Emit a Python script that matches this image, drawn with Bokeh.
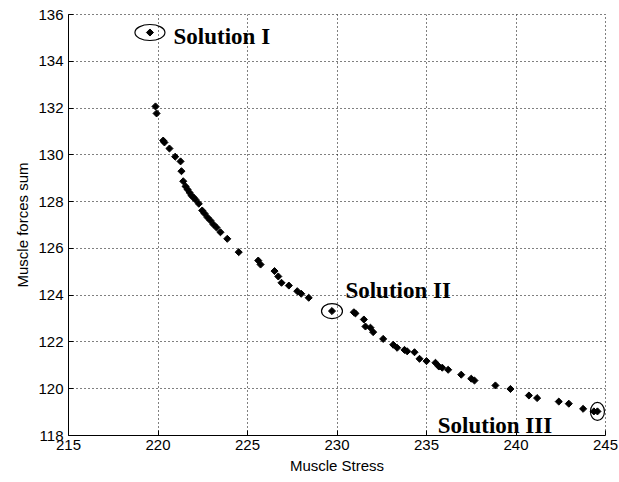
import math
from bokeh.plotting import figure
from bokeh.models import FixedTicker, Range1d, ColumnDataSource
from bokeh.core.properties import value
from bokeh.embed import file_html
from bokeh.resources import INLINE

# ---- data ----
muscle_stress = [
    219.86, 219.92, 220.29, 220.36, 220.64, 220.96, 221.26, 221.31, 221.41,
    221.54, 221.65, 221.76, 221.87, 221.98, 222.09, 222.28, 222.47, 222.60,
    222.77, 222.93, 223.10, 223.27, 223.49, 223.87, 224.51, 225.60, 225.73,
    226.51, 226.72, 226.90, 227.31, 227.78, 228.00, 228.42,
    230.94, 231.03, 231.50, 231.59, 231.87, 232.02, 232.58, 233.14, 233.36,
    233.77, 233.92, 234.33, 234.61, 235.00, 235.50, 235.69, 235.88, 236.21,
    236.94, 237.50, 237.68, 238.85, 239.69, 240.72, 241.18, 242.39, 242.95,
    243.75, 244.35,
]
muscle_forces_sum = [
    132.07, 131.77, 130.61, 130.53, 130.27, 129.92, 129.72, 129.30, 128.87,
    128.65, 128.52, 128.39, 128.26, 128.18, 128.09, 127.91, 127.62, 127.49,
    127.32, 127.19, 127.02, 126.89, 126.69, 126.41, 125.84, 125.48, 125.31,
    125.03, 124.80, 124.53, 124.41, 124.17, 124.06, 123.89,
    123.27, 123.22, 122.96, 122.66, 122.61, 122.42, 122.13, 121.88, 121.75,
    121.66, 121.60, 121.56, 121.28, 121.18, 121.11, 120.95, 120.90, 120.81,
    120.60, 120.43, 120.35, 120.14, 119.99, 119.71, 119.60, 119.45, 119.36,
    119.14, 119.03,
]

solution_names = ["Solution I", "Solution II", "Solution III"]
solution_stress = [219.55, 229.72, 244.55]
solution_forces = [135.23, 123.32, 119.03]

# label anchor positions (data coordinates)
label_x = [220.87, 230.47, 235.63]
label_y = [135.04, 124.20, 118.43]

x_ticks = [215, 220, 225, 230, 235, 240, 245]
y_ticks = [118, 120, 122, 124, 126, 128, 130, 132, 134, 136]

# ---- styles ----
ellipse_w = [30, 21, 14]   # screen px
ellipse_h = [16, 15, 18]

p = figure(
    output_backend="svg", toolbar_location=None,
    frame_width=537, frame_height=421,
    x_range=Range1d(215, 245), y_range=Range1d(118, 136),
    min_border_left=68, min_border_right=14,
    min_border_top=14, min_border_bottom=47,
    background_fill_color="white", border_fill_color="white",
)
p.outline_line_color = "black"
p.outline_line_dash = "1 3"
p.outline_line_width = 1

for ax in (p.xaxis, p.yaxis):
    ax.axis_line_color = "black"
    ax.axis_line_width = 1
    ax.major_tick_in = 5
    ax.major_tick_out = 0
    ax.minor_tick_line_color = None
    ax.major_tick_line_color = "black"
    ax.major_label_text_font = "Liberation Sans"
    ax.major_label_text_font_size = "15px"
    ax.major_label_text_color = "black"
    ax.axis_label_text_font = "Liberation Sans"
    ax.axis_label_text_font_size = "15px"
    ax.axis_label_text_font_style = "normal"
    ax.axis_label_text_color = "black"

p.xaxis.ticker = FixedTicker(ticks=x_ticks)
p.yaxis.ticker = FixedTicker(ticks=y_ticks)
p.xaxis.axis_label = "Muscle Stress"
p.yaxis.axis_label = "Muscle forces sum"
p.xaxis.major_label_standoff = 4
p.yaxis.major_label_standoff = 5
p.xaxis.axis_label_standoff = 4
p.yaxis.axis_label_standoff = 4

for g in (p.xgrid, p.ygrid):
    g.grid_line_color = "black"
    g.grid_line_dash = "1 3"
    g.grid_line_width = 1
    g.grid_line_alpha = 1.0

diamond_angle = math.pi / 4

src = ColumnDataSource(dict(x=muscle_stress, y=muscle_forces_sum))
p.scatter("x", "y", source=src, marker="square", size=5, angle=diamond_angle,
          fill_color="black", line_color="black", line_width=1)

sol = ColumnDataSource(dict(x=solution_stress, y=solution_forces,
                            w=ellipse_w, h=ellipse_h,
                            lx=label_x, ly=label_y, name=solution_names))
p.scatter("x", "y", source=sol, marker="square", size=5, angle=diamond_angle,
          fill_color="black", line_color="black", line_width=1)
p.ellipse("x", "y", width="w", height="h", source=sol,
          width_units="screen", height_units="screen",
          fill_color=None, line_color="black", line_width=1.2)
p.text("lx", "ly", text="name", source=sol,
       text_font=value("Liberation Serif"), text_font_style="bold",
       text_font_size="23px", text_color="black",
       text_align="left", text_baseline="alphabetic")

open("out.html", "w").write(file_html(p, INLINE))
